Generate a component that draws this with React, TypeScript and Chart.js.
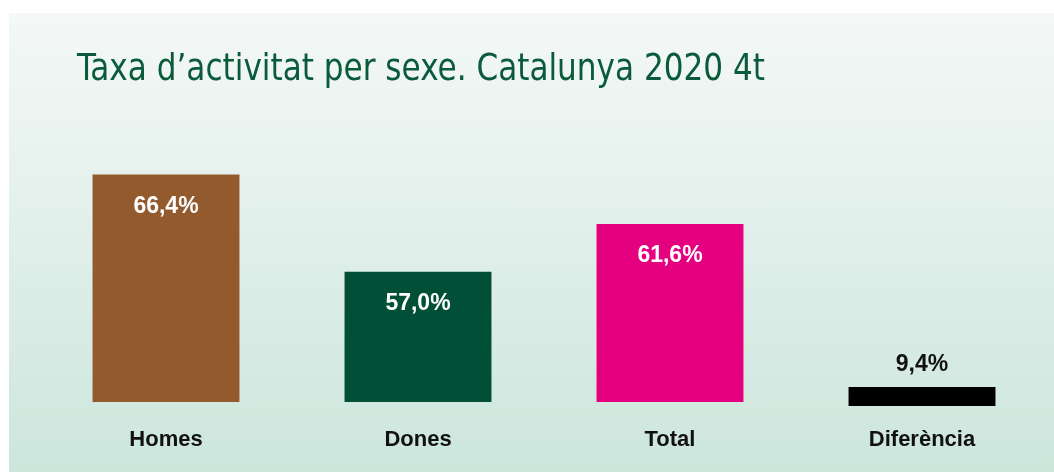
import React, { useEffect, useRef } from 'react';
import { Chart, registerables } from 'chart.js';

Chart.register(...registerables);

const titleText = 'Taxa d’activitat per sexe. Catalunya 2020 4t';
const categories = ['Homes', 'Dones', 'Total', 'Diferència'];
const rates: (number | null)[] = [66.4, 57.0, 61.6, null];
const difference: (number | null)[] = [null, null, null, 9.4];
const barColors = ['#935a2d', '#004f36', '#e4007e', '#000000'];

const fmt = (v: number) => v.toFixed(1).replace('.', ',') + '%';

const TITLE_WIDTH = 688;

const titlePlugin = {
  id: 'titlePlugin',
  afterDraw(chart: any) {
    const ctx = chart.ctx;
    ctx.save();
    ctx.font = '38px "DejaVu Sans Condensed", "Liberation Sans Narrow", sans-serif';
    ctx.fillStyle = '#0a5a3c';
    ctx.textAlign = 'left';
    ctx.textBaseline = 'alphabetic';
    const w = ctx.measureText(titleText).width;
    const sx = w > 0 ? TITLE_WIDTH / w : 1;
    ctx.translate(chart.chartArea.left + 37, 80);
    ctx.scale(sx, 1);
    ctx.fillText(titleText, 0, 0);
    ctx.restore();
  },
};

const valueLabels = {
  id: 'valueLabels',
  afterDatasetsDraw(chart: any) {
    const ctx = chart.ctx;
    ctx.save();
    ctx.font = 'bold 23px "Liberation Sans", Arial, sans-serif';
    ctx.textAlign = 'center';
    ctx.textBaseline = 'middle';
    chart.data.datasets.forEach((ds: any, di: number) => {
      const meta = chart.getDatasetMeta(di);
      meta.data.forEach((el: any, i: number) => {
        const v = ds.data[i];
        if (v == null) return;
        if (di === 0) {
          ctx.fillStyle = '#ffffff';
          ctx.fillText(fmt(v), el.x, el.y + 32);
        } else {
          ctx.fillStyle = '#111111';
          ctx.fillText(fmt(v), el.x, el.y - 22);
        }
      });
    });
    ctx.restore();
  },
};

export default function App() {
  const ref = useRef<HTMLCanvasElement>(null);
  useEffect(() => {
    if (!ref.current) return;
    const chart = new Chart(ref.current, {
      type: 'bar',
      data: {
        labels: categories,
        datasets: [
          {
            data: rates,
            backgroundColor: barColors,
            yAxisID: 'y',
            grouped: false,
            barPercentage: 0.583,
            categoryPercentage: 1,
          } as any,
          {
            data: difference,
            backgroundColor: barColors,
            yAxisID: 'y2',
            grouped: false,
            clip: false,
            barPercentage: 0.583,
            categoryPercentage: 1,
          } as any,
        ],
      },
      options: {
        responsive: false,
        animation: false,
        layout: { padding: { left: 40, right: 6, top: 130, bottom: 20 } },
        plugins: { legend: { display: false }, tooltip: { enabled: false }, title: { display: false } },
        scales: {
          x: {
            grid: { display: false, drawTicks: false },
            border: { display: false },
            afterFit: (scale: any) => {
              scale.height = 50;
            },
            ticks: {
              color: '#111111',
              padding: 25,
              maxRotation: 0,
              font: { family: '"Liberation Sans", Arial, sans-serif', size: 22, weight: 'bold' },
            },
          },
          y: { display: false, min: 44.4, max: 70.7 },
          y2: { display: false, axis: 'y', min: 1.98, max: 136.6 },
        },
      },
      plugins: [titlePlugin, valueLabels],
    });
    return () => chart.destroy();
  }, []);

  return (
    <div style={{ position: 'fixed', left: 0, top: 0, width: 1054, height: 472, background: '#ffffff' }}>
      <div
        style={{
          position: 'absolute',
          left: 9,
          top: 13,
          right: 0,
          bottom: 0,
          background: 'linear-gradient(to bottom, #f4f8f6 0%, #cce6dc 100%)',
        }}
      />
      <canvas ref={ref} width={1054} height={472} style={{ position: 'absolute', left: 0, top: 0 }} />
    </div>
  );
}
